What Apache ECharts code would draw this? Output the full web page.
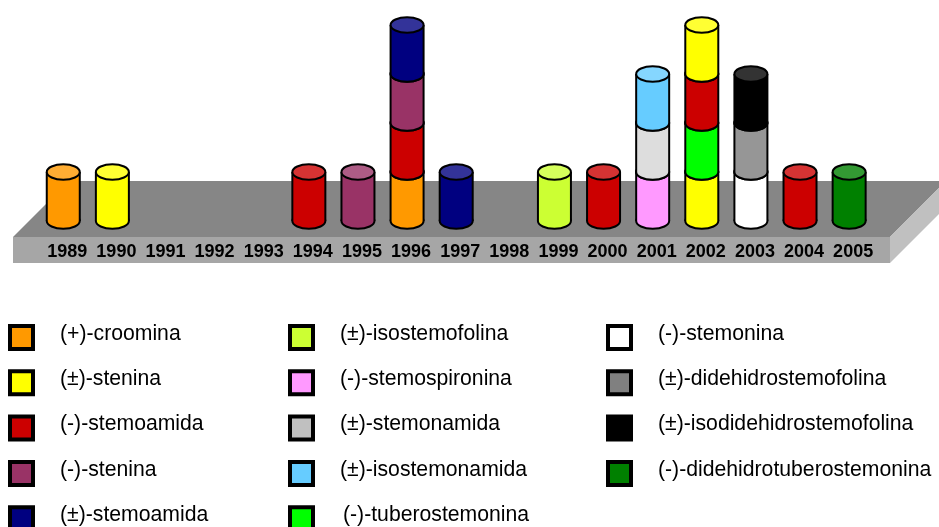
<!DOCTYPE html>
<html>
<head>
<meta charset="utf-8">
<style>
  html, body { margin: 0; padding: 0; background: #fff; }
  #main { width: 939px; height: 527px; }
</style>
<script src="https://cdn.jsdelivr.net/npm/echarts@6/dist/echarts.min.js"></script>
</head>
<body>
<div id="main"></div>
<script>
const years = ['1989','1990','1991','1992','1993','1994','1995','1996','1997','1998','1999','2000','2001','2002','2003','2004','2005'];

const compounds = [
  '(+)-croomina', '(±)-stenina', '(-)-stemoamida', '(-)-stenina', '(±)-stemoamida',
  '(±)-isostemofolina', '(-)-stemospironina', '(±)-stemonamida', '(±)-isostemonamida', '(-)-tuberostemonina',
  '(-)-stemonina', '(±)-didehidrostemofolina', '(±)-isodidehidrostemofolina', '(-)-didehidrotuberostemonina'
];
const barColors = ['#FF9900','#FFFF00','#CC0000','#993366','#000080','#CCFF33','#FF99FF','#DDDDDD','#66CCFF','#00FF00','#FFFFFF','#969696','#000000','#008000'];
const swatchColors = ['#FF9900','#FFFF00','#CC0000','#993366','#000080','#CCFF33','#FF99FF','#C0C0C0','#66CCFF','#00FF00','#FFFFFF','#808080','#000000','#008000'];

// compounds reported each year, bottom of the pile first
const pileByYear = [
  [0], [1], [], [], [], [2], [3], [0,2,3,4], [4], [], [5], [2], [6,7,8], [1,9,2,1], [10,11,12], [2], [13]
];

const chart = echarts.init(document.getElementById('main'));

function lighten(hex) {
  const n = parseInt(hex.slice(1), 16);
  const mix = c => Math.round(c + (255 - c) * 0.2);
  return 'rgb(' + mix(n >> 16) + ',' + mix((n >> 8) & 255) + ',' + mix(n & 255) + ')';
}

function segmentsOf(idx) {
  const out = [];
  pileByYear.forEach((pile, y) => {
    pile.forEach((c, level) => {
      if (c === idx) out.push([y, level, level + 1]);
    });
  });
  return out;
}

function renderCylinder(params, api) {
  const bottom = api.coord([api.value(0), api.value(1)]);
  const top = api.coord([api.value(0), api.value(2)]);
  const color = barColors[params.seriesIndex];
  const rx = 16.5, ry = 7.8;
  const line = { stroke: '#000', lineWidth: 2 };
  const z = api.value(1) * 5;
  return {
    type: 'group',
    children: [
      { type: 'ellipse', z2: z + 1, shape: { cx: bottom[0], cy: bottom[1], rx, ry }, style: { fill: color, ...line } },
      { type: 'rect', z2: z + 2, shape: { x: bottom[0] - rx, y: top[1], width: rx * 2, height: bottom[1] - top[1] }, style: { fill: color } },
      { type: 'line', z2: z + 3, shape: { x1: bottom[0] - rx, y1: top[1], x2: bottom[0] - rx, y2: bottom[1] }, style: line },
      { type: 'line', z2: z + 3, shape: { x1: bottom[0] + rx, y1: top[1], x2: bottom[0] + rx, y2: bottom[1] }, style: line },
      { type: 'ellipse', z2: z + 4, shape: { cx: top[0], cy: top[1], rx, ry }, style: { fill: lighten(color), ...line } }
    ]
  };
}

// platform under the cylinders
const platform = [
  { type: 'polygon', z: -10, shape: { points: [[13,237],[69,181],[939,181],[939,188],[890,237]] }, style: { fill: '#868686' } },
  { type: 'polygon', z: -10, shape: { points: [[13,237],[890,237],[890,263],[13,263]] }, style: { fill: '#A6A6A6' } },
  { type: 'polygon', z: -10, shape: { points: [[890,237],[939,188],[939,214],[890,263]] }, style: { fill: '#C0C0C0' } }
];

// legend: three columns of swatch + label
const columns = [[0,1,2,3,4],[5,6,7,8,9],[10,11,12,13]];
const swatchX = [8, 288, 606];
const textX = [60, 340, 658];
const legendItems = [];
columns.forEach((col, ci) => {
  col.forEach((c, row) => {
    const y = 324 + row * 45.3;
    legendItems.push({
      type: 'rect',
      shape: { x: swatchX[ci] + 2, y: y + 2, width: 23, height: 23 },
      style: { fill: swatchColors[c], stroke: '#000', lineWidth: 4 }
    });
    legendItems.push({
      type: 'text',
      x: textX[ci] + (c === 9 ? 3 : 0),
      y: y + 10,
      style: { text: compounds[c], fill: '#000', font: '21.2px "Liberation Sans", Arial, sans-serif', textVerticalAlign: 'middle' }
    });
  });
});

chart.setOption({
  animation: false,
  backgroundColor: '#fff',
  grid: { left: 38.7, width: 835, top: 25, height: 196 },
  xAxis: {
    type: 'category',
    data: years,
    axisLine: { show: false },
    axisTick: { show: false },
    axisLabel: {
      interval: 0,
      margin: 22.5,
      padding: [0, 0, 0, 8],
      color: '#000',
      fontSize: 18,
      fontWeight: 'bold',
      fontFamily: '"Liberation Sans", Arial, sans-serif'
    }
  },
  yAxis: { type: 'value', min: 0, max: 4, show: false },
  graphic: { elements: platform.concat(legendItems) },
  series: compounds.map((name, i) => ({
    type: 'custom',
    name: name,
    renderItem: renderCylinder,
    encode: { x: 0, y: [1, 2] },
    data: segmentsOf(i)
  }))
});
</script>
</body>
</html>
